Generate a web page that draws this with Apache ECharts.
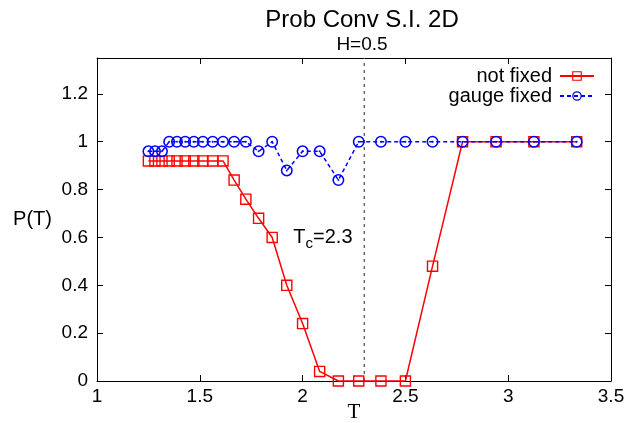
<!DOCTYPE html>
<html>
<head>
<meta charset="utf-8">
<script src="https://cdn.jsdelivr.net/npm/echarts@6/dist/echarts.min.js"></script>
<style>
  html, body { margin: 0; padding: 0; background: #fff; }
  #chart { width: 630px; height: 423px; }
</style>
</head>
<body>
<div id="chart"></div>
<script>
// Temperatures sampled (beta = 0.80 ... 0.30 in steps of 0.02)
const temperatures = [1.25, 1.282, 1.316, 1.351, 1.389, 1.429, 1.471, 1.515, 1.5625, 1.613,
  1.667, 1.724, 1.786, 1.852, 1.923, 2.0, 2.083, 2.174, 2.273, 2.381, 2.5, 2.632,
  2.778, 2.941, 3.125, 3.333];

// Convergence probability without gauge fixing
const notFixed = [0.92, 0.92, 0.92, 0.92, 0.92, 0.92, 0.92, 0.92, 0.92, 0.92,
  0.84, 0.76, 0.68, 0.60, 0.40, 0.24, 0.04, 0, 0, 0, 0, 0.48,
  1, 1, 1, 1];

// Convergence probability with gauge fixing
const gaugeFixed = [0.96, 0.96, 0.96, 1, 1, 1, 1, 1, 1, 1,
  1, 1, 0.96, 1, 0.88, 0.96, 0.96, 0.84, 1, 1, 1, 1,
  1, 1, 1, 1];

const xTicks = [1, 1.5, 2, 2.5, 3, 3.5];
const yTicks = [0, 0.2, 0.4, 0.6, 0.8, 1, 1.2];

const criticalT = 2.3;
const tcLabelAnchor = [1.955, 0.6];

const seriesNames = ['not fixed', 'gauge fixed'];

// Hollow square and circle-with-dot symbols (line shows through the hole)
const squareSymbol = 'path://M0,0H100V100H0Z M12,12V88H88V12Z';
const circleSymbol = 'path://M50,0A50,50 0 1,1 50,100A50,50 0 1,1 50,0Z ' +
  'M50,13A37,37 0 1,0 50,87A37,37 0 1,0 50,13Z ' +
  'M50,42A8,8 0 1,1 50,58A8,8 0 1,1 50,42Z';

const pairs = (xs, ys) => xs.map((x, i) => [x, ys[i]]);

const sansFont = '"Liberation Sans", Arial, sans-serif';
const tickFont = { fontFamily: sansFont, fontSize: 19, color: '#000' };

const chart = echarts.init(document.getElementById('chart'), null, { renderer: 'canvas' });

const frameLine = { show: true, onZero: false, lineStyle: { color: '#000', width: 1 } };
const noLabel = { show: false };
const noSplit = { show: false };

chart.setOption({
  animation: false,
  backgroundColor: '#fff',
  title: [
    {
      text: 'Prob Conv S.I. 2D',
      left: 357, top: 3, textAlign: 'center',
      textStyle: { fontFamily: sansFont, fontSize: 24, fontWeight: 'normal', color: '#000' }
    },
    {
      text: 'H=0.5',
      left: 357, top: 30, textAlign: 'center',
      textStyle: { fontFamily: sansFont, fontSize: 19, fontWeight: 'normal', color: '#000' }
    }
  ],
  legend: {
    orient: 'vertical',
    right: 30,
    top: 61,
    align: 'right',
    itemWidth: 34,
    itemHeight: 12,
    itemGap: 0,
    data: seriesNames,
    textStyle: { fontFamily: sansFont, fontSize: 20, lineHeight: 20, color: '#000', padding: [0, 3, 0, 0] }
  },
  grid: { left: 97, right: 19, top: 58, bottom: 42, show: false, containLabel: false, outerBoundsMode: 'none' },
  xAxis: [
    {
      type: 'value', min: 1, max: 3.5, interval: 0.5,
      name: 'T', nameLocation: 'middle', nameGap: 21, nameMoveOverlap: false,
      nameTextStyle: { fontFamily: '"Liberation Serif", "Times New Roman", serif', fontSize: 21, color: '#000' },
      axisLine: frameLine,
      axisTick: { show: true, inside: true, length: 6, customValues: xTicks, lineStyle: { color: '#000' } },
      axisLabel: Object.assign({ margin: 6, customValues: xTicks, formatter: v => String(v) }, tickFont),
      splitLine: noSplit
    },
    {
      type: 'value', position: 'top', min: 1, max: 3.5, interval: 0.5,
      axisLine: frameLine,
      axisTick: { show: true, inside: true, length: 6, customValues: xTicks, lineStyle: { color: '#000' } },
      axisLabel: noLabel, splitLine: noSplit
    }
  ],
  yAxis: [
    {
      type: 'value', min: 0, max: 1.35, interval: 0.2,
      name: 'P(T)', nameLocation: 'middle', nameGap: 45, nameRotate: 0, nameMoveOverlap: false,
      nameTextStyle: { fontFamily: sansFont, fontSize: 20, color: '#000' },
      axisLine: frameLine,
      axisTick: { show: true, inside: true, length: 6, customValues: yTicks, lineStyle: { color: '#000' } },
      axisLabel: Object.assign({ margin: 9, customValues: yTicks, formatter: v => String(+v.toFixed(2)) }, tickFont),
      splitLine: noSplit
    },
    {
      type: 'value', position: 'right', min: 0, max: 1.35, interval: 0.2,
      axisLine: frameLine,
      axisTick: { show: true, inside: true, length: 6, customValues: yTicks, lineStyle: { color: '#000' } },
      axisLabel: noLabel, splitLine: noSplit
    }
  ],
  series: [
    {
      // critical temperature marker
      type: 'line',
      silent: true,
      data: [[criticalT, 0], [criticalT, 1.35]],
      symbol: 'none',
      lineStyle: { color: '#555', width: 1.3, type: [3, 4] },
      markPoint: {
        symbol: 'circle', symbolSize: 0,
        data: [{
          coord: tcLabelAnchor,
          label: {
            show: true, position: 'right', distance: 0,
            formatter: '{t|T}{s|c}{t|=2.3}',
            rich: {
              t: { fontFamily: sansFont, fontSize: 20, color: '#000' },
              s: { fontFamily: sansFont, fontSize: 15, color: '#000', padding: [12, 0, 0, 0] }
            }
          }
        }]
      },
      z: 1
    },
    {
      name: seriesNames[0],
      type: 'line',
      data: pairs(temperatures, notFixed),
      clip: false,
      symbol: squareSymbol,
      symbolSize: 11.5,
      symbolKeepAspect: true,
      itemStyle: { color: '#ff0000', borderWidth: 0 },
      lineStyle: { color: '#ff0000', width: 1.5 },
      z: 2
    },
    {
      name: seriesNames[1],
      type: 'line',
      data: pairs(temperatures, gaugeFixed),
      clip: false,
      symbol: circleSymbol,
      symbolSize: 12,
      symbolKeepAspect: true,
      itemStyle: { color: '#0000ff', borderWidth: 0 },
      lineStyle: { color: '#0000ff', width: 1.5, type: [4, 3] },
      z: 3
    }
  ]
});
</script>
</body>
</html>
